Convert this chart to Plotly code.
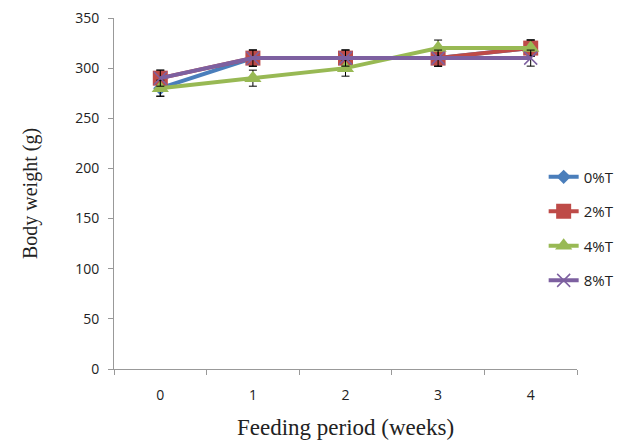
import plotly.graph_objects as go

weeks = ["0", "1", "2", "3", "4"]
series_names = ["0%T", "2%T", "4%T", "8%T"]
t0 = [280, 310, 310, 310, 320]
t2 = [290, 310, 310, 310, 320]
t4 = [280, 290, 300, 320, 320]
t8 = [290, 310, 310, 310, 310]
err0 = [8, 8, 8, 8, 8]
err2 = [8, 8, 8, 8, 8]
err4 = [8, 8, 8, 8, 8]
err8 = [8, 8, 8, 8, 8]

colors = ["#4A7EBB", "#BE4B48", "#98B954", "#7D60A0"]
symbols = ["diamond", "square", "triangle-up", "x-thin"]
sizes = [11, 15, 15, 13]
values = [t0, t2, t4, t8]
errs = [err0, err2, err4, err8]

fig = go.Figure()
for i, name in enumerate(series_names):
    mk = dict(symbol=symbols[i], size=sizes[i], color=colors[i])
    if symbols[i] == "x-thin":
        mk["line"] = dict(color=colors[i], width=1.5)
    fig.add_trace(go.Scatter(
        x=weeks, y=values[i], name=name, mode="lines+markers",
        line=dict(color=colors[i], width=4),
        marker=mk,
        legendgroup=name,
        error_y=dict(type="data", array=errs[i], color="#000000", thickness=1, width=4),
    ))

fig.update_layout(
    width=622, height=438,
    margin=dict(l=106, r=53, t=10, b=77),
    paper_bgcolor="white", plot_bgcolor="white",
    showlegend=True,
    legend=dict(x=0.928, y=0.40, xanchor="left", yanchor="middle",
                bgcolor="rgba(0,0,0,0)", font=dict(family="Open Sans", size=15, color="#222"),
                traceorder="grouped", tracegroupgap=12, itemwidth=30),
    font=dict(family="Open Sans", size=14, color="#222"),
)
fig.update_xaxes(
    type="category", range=[-0.5, 4.5], showline=True, linecolor="#999", linewidth=1,
    ticks="outside", tickson="boundaries", ticklen=5, tickcolor="#999", showgrid=False,
    zeroline=False, ticklabelstandoff=13, automargin=False,
    tickfont=dict(family="Open Sans", size=14, color="#222"),
    title=dict(text="Feeding period (weeks)", font=dict(family="Liberation Serif", size=23, color="#222"), standoff=16),
)
fig.update_yaxes(
    range=[0, 350], dtick=50, showline=True, linecolor="#999", linewidth=1,
    ticks="outside", ticklen=5, tickcolor="#999", showgrid=False, zeroline=False,
    ticklabelstandoff=6, ticklabeloverflow="allow", automargin=False,
    tickfont=dict(family="Open Sans", size=14, color="#222"),
    title=dict(text="Body weight (g)", font=dict(family="Liberation Serif", size=20, color="#222"), standoff=32),
)

fig.write_html("out.html")
